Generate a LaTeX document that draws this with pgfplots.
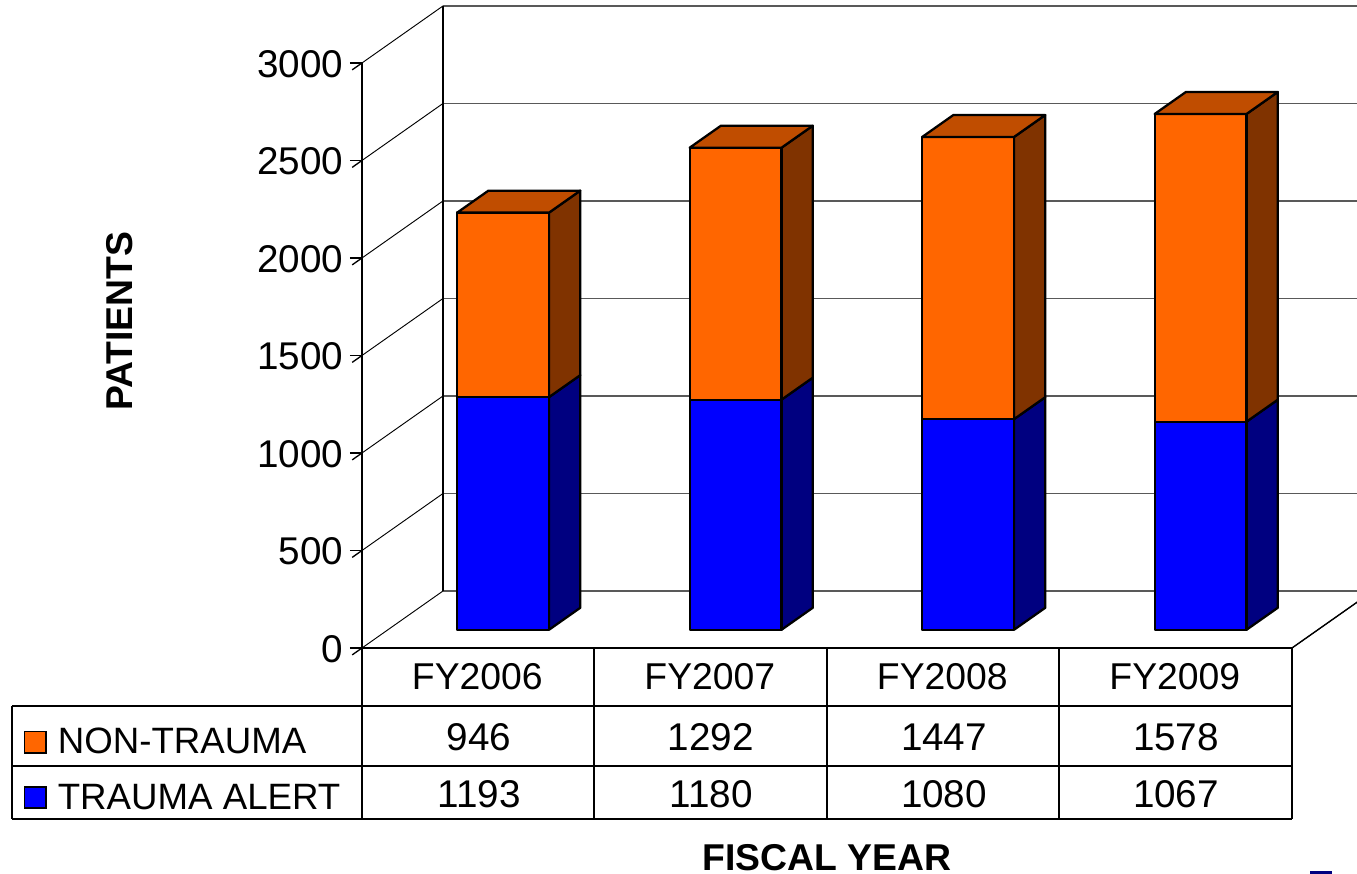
\documentclass[border=0pt]{standalone}
\usepackage{fontspec}
\setmainfont{Liberation Sans}
\usepackage{pgfplots}
\pgfplotsset{compat=1.18}
\definecolor{orangeF}{HTML}{FF6600}
\definecolor{orangeS}{HTML}{803300}
\definecolor{orangeT}{HTML}{C04D00}
\definecolor{blueF}{HTML}{0000FF}
\definecolor{blueS}{HTML}{000080}
\newcommand{\fs}{\fontsize{27.5pt}{32pt}\selectfont}
\newcommand{\fn}{\fontsize{29pt}{32pt}\selectfont}
\newcommand{\ff}{\fontsize{28pt}{32pt}\selectfont}
% #1,#2 x range; #3,#4 value range; #5 front colour; #6 side colour
\newcommand{\segment}[6]{%
  \addplot3[draw=black,line width=1.7pt,fill=#6,line join=round,forget plot] coordinates {(#2,0.32,#3) (#2,0.705,#3) (#2,0.705,#4) (#2,0.32,#4) (#2,0.32,#3)} -- cycle;
  \addplot3[draw=black,line width=1.7pt,fill=#5,line join=round,forget plot] coordinates {(#1,0.32,#3) (#2,0.32,#3) (#2,0.32,#4) (#1,0.32,#4) (#1,0.32,#3)} -- cycle;
}
\newcommand{\topface}[3]{%
  \addplot3[draw=black,line width=1.7pt,fill=orangeT,line join=round,forget plot] coordinates {(#1,0.32,#3) (#2,0.32,#3) (#2,0.705,#3) (#1,0.705,#3) (#1,0.32,#3)} -- cycle;
}
\newcommand{\gridlev}[1]{%
  \addplot3[draw=black!65,line width=0.9pt,forget plot] coordinates {(0,1,#1) (4,1,#1)};
  \addplot3[draw=black,line width=0.7pt,forget plot] coordinates {(0,0,#1) (0,1,#1)};
}
\begin{document}
\begin{tikzpicture}
\clip (0,0) rectangle (1017.75pt,655.5pt);
\begin{axis}[
  at={(271.5pt,169.5pt)}, anchor=south west,
  x={(174.375pt,0pt)}, y={(60.75pt,42.75pt)}, z={(0pt,0.14625pt)},
  xmin=0, xmax=4, ymin=0, ymax=1, zmin=0, zmax=3000,
  clip=false,
  axis lines=left,
  axis line style={-,black,line width=1pt},
  xtick={0.5,1.5,2.5,3.5},
  xticklabels={FY2006,FY2007,FY2008,FY2009},
  ytick=\empty,
  ztick={0,500,1000,1500,2000,2500,3000},
  xtick style={draw=none},
  ztick style={black,line width=1pt},
  tick align=outside,
  major tick length=9pt,
  /pgf/number format/assume math mode=true,
  /pgf/number format/1000 sep={},
  xticklabel style={font=\ff,anchor=center,xshift=6.7pt,yshift=-16.5pt},
  zticklabel style={font=\fn,anchor=east,xshift=-3pt,yshift=4.5pt},
  every axis x label/.style={at={(0.46,-0.326)},anchor=center,inner sep=0pt},
  every axis z label/.style={at={(-0.24,0.509)},anchor=center,rotate=90,inner sep=0pt},
  label style={font=\ff\bfseries},
  xlabel={FISCAL YEAR},
  zlabel={PATIENTS},
  legend style={draw=none,fill=none,font=\fs,at={(-0.335,-0.1205)},anchor=north west,
    legend cell align=left,row sep=17pt,inner sep=0pt,
    /tikz/every odd column/.append style={column sep=6.5pt}},
  legend image code/.code={\draw[#1,line width=1.2pt] (0pt,-8pt) rectangle (16pt,8pt);},
]
\addlegendimage{draw=black,fill=orangeF}
\addlegendentry{NON-TRAUMA}
\addlegendimage{draw=black,fill=blueF}
\addlegendentry{TRAUMA ALERT}
% walls and floor
\gridlev{0}\gridlev{500}\gridlev{1000}\gridlev{1500}\gridlev{2000}\gridlev{2500}\gridlev{3000}
\addplot3[draw=black,line width=1pt,forget plot] coordinates {(0,1,0) (0,1,3000)};
\addplot3[draw=black,line width=0.7pt,forget plot] coordinates {(4,0,0) (4,1,0)};
% TRAUMA ALERT then NON-TRAUMA (cumulative)
\segment{0.298}{0.693}{0}{1193}{blueF}{blueS}
\segment{0.298}{0.693}{1193}{2139}{orangeF}{orangeS}
\topface{0.298}{0.693}{2139}
\segment{1.298}{1.693}{0}{1180}{blueF}{blueS}
\segment{1.298}{1.693}{1180}{2472}{orangeF}{orangeS}
\topface{1.298}{1.693}{2472}
\segment{2.298}{2.693}{0}{1080}{blueF}{blueS}
\segment{2.298}{2.693}{1080}{2527}{orangeF}{orangeS}
\topface{2.298}{2.693}{2527}
\segment{3.298}{3.693}{0}{1067}{blueF}{blueS}
\segment{3.298}{3.693}{1067}{2645}{orangeF}{orangeS}
\topface{3.298}{3.693}{2645}
\end{axis}
\begin{scope}[x=0.75pt,y=-0.75pt,yshift=655.5pt,line width=1pt]
  \draw (12,706) -- (1292,706);
  \draw (12,766) -- (1292,766);
  \draw (12,819) -- (1292,819);
  \draw (12,706) -- (12,819);
  \draw (362,648) -- (362,819);
  \draw (594,648) -- (594,819);
  \draw (827,648) -- (827,819);
  \draw (1059,648) -- (1059,819);
  \draw (1292,648) -- (1292,819);
  \foreach \x/\a/\b in {479/946/1193,711/1292/1180,944/1447/1080,1176/1578/1067}{
    \node[font=\fn] at (\x,737) {\a};
    \node[font=\fn] at (\x,794) {\b};
  }
  \fill[blueS] (1310,871) rectangle (1332,874);
\end{scope}
\end{tikzpicture}
\end{document}
